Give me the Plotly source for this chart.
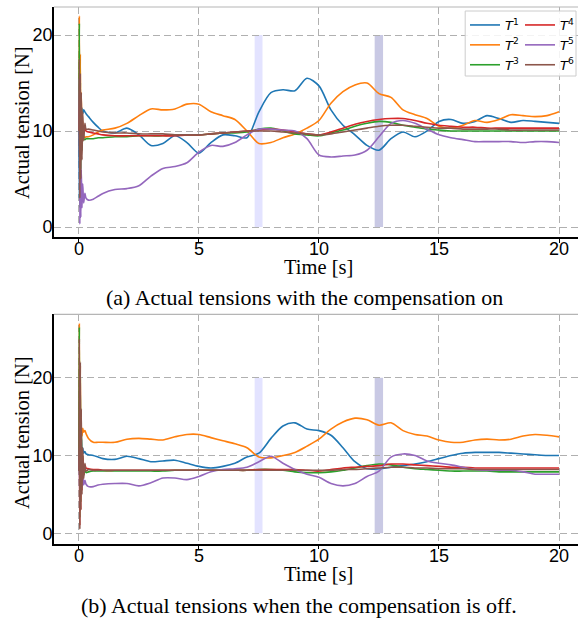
import plotly.graph_objects as go

# ---------------- data ----------------
t = [0, 0.02, 0.04, 0.06, 0.08, 0.1, 0.13, 0.16, 0.2, 0.25, 0.3, 0.4, 0.6, 0.8, 1.0,
     1.5, 2.0, 2.5, 3.0, 3.5, 4.0, 4.5, 5.0, 5.5, 6.0, 6.5, 7.0, 7.5, 8.0, 8.5, 9.0,
     9.5, 10.0, 10.5, 11.0, 11.5, 12.0, 12.5, 13.0, 13.5, 14.0, 14.5, 15.0, 15.5,
     16.0, 16.5, 17.0, 17.5, 18.0, 18.5, 19.0, 19.5, 20.0]

# (a) compensation on
a_T1 = [10, 3, 12, 8, 12.5, 11, 12.4, 11.8, 12.2, 12.0, 11.8, 11.5, 10.9, 10.4, 10.0,
        9.8, 10.3, 9.6, 8.5, 8.7, 9.5, 8.8, 7.7, 8.8, 9.6, 9.5, 9.3, 12.0, 14.0, 14.3, 14.2,
        15.5, 14.7, 12.2, 10.6, 9.6, 8.5, 8.0, 9.2, 9.9, 9.4, 10.0, 11.0, 11.2,
        10.8, 11.0, 11.6, 11.3, 10.9, 11.1, 11.0, 10.9, 10.8]
a_T2 = [10, 22, 4, 18, 8, 14, 9, 11, 9.5, 9.3, 9.4, 9.4, 9.6, 9.9, 10.1,
        10.3, 10.8, 11.6, 12.3, 12.2, 12.3, 12.8, 12.8, 12.0, 11.6, 11.2, 10.0, 8.7, 8.8, 9.3, 9.7,
        10.3, 11.1, 12.9, 14.1, 14.8, 15.0, 13.9, 13.5, 12.2, 11.7, 11.3, 10.5, 10.3,
        10.6, 11.1, 10.9, 11.2, 11.7, 11.6, 11.5, 11.6, 12.0]
a_T3 = [10, 21.2, 2, 15, 6, 12, 8, 10, 9.2, 9.1, 9.2, 9.2, 9.2, 9.3, 9.3,
        9.4, 9.4, 9.5, 9.5, 9.5, 9.6, 9.6, 9.6, 9.7, 9.8, 9.8, 9.9, 10.2, 10.3, 10.0, 9.7,
        9.6, 9.5, 9.8, 10.1, 10.5, 10.8, 11.0, 10.9, 10.6, 10.4, 10.2, 10.1, 10.0,
        10.0, 10.0, 10.0, 10.0, 10.0, 10.0, 10.0, 10.0, 10.0]
a_T4 = [10, 12.5, 6, 12, 8, 11, 9, 10.5, 10.0, 10.2, 10.0, 9.9, 9.8, 9.7, 9.6,
        9.5, 9.5, 9.5, 9.5, 9.5, 9.5, 9.6, 9.6, 9.7, 9.8, 9.9, 10.0, 10.1, 10.2, 10.1, 9.9,
        9.7, 9.6, 9.9, 10.3, 10.7, 11.0, 11.2, 11.3, 11.3, 11.1, 10.8, 10.6, 10.5,
        10.4, 10.4, 10.3, 10.3, 10.3, 10.3, 10.3, 10.3, 10.3]
a_T5 = [10, 15.5, 0.3, 10, 1, 6, 2, 4.5, 2.5, 3.5, 3.0, 2.8, 2.9, 3.2, 3.5,
        3.9, 4.0, 4.3, 5.3, 6.1, 6.3, 6.7, 7.8, 8.5, 8.4, 8.8, 9.6, 10.2, 10.2, 10.1, 10.0,
        9.2, 7.5, 7.3, 7.4, 7.5, 8.0, 9.4, 10.8, 11.1, 10.8, 10.2, 9.6, 9.3,
        9.1, 8.9, 8.9, 8.9, 8.9, 8.8, 8.9, 8.9, 8.8]
a_T6 = [10, 17.5, 3, 16, 5, 14, 7, 12, 9, 10.8, 10.2, 10.2, 10.1, 10.0, 9.9,
        9.8, 9.8, 9.7, 9.7, 9.7, 9.6, 9.6, 9.6, 9.7, 9.8, 9.9, 10.0, 10.0, 10.0, 9.9, 9.8,
        9.7, 9.6, 9.7, 9.9, 10.1, 10.3, 10.5, 10.6, 10.6, 10.5, 10.4, 10.3, 10.3,
        10.2, 10.2, 10.2, 10.2, 10.1, 10.1, 10.1, 10.1, 10.1]

# (b) compensation off
b_T1 = [8, 14.3, 5, 13, 8, 12.5, 10, 11, 10.3, 10.5, 10.2, 10.1, 10.0, 9.8, 9.6,
        9.5, 9.9, 9.6, 9.2, 9.3, 9.4, 9.0, 8.6, 8.4, 8.6, 9.0, 9.8, 10.3, 12.2, 13.8, 14.2,
        13.4, 13.2, 12.6, 11.0, 9.2, 8.3, 8.3, 8.5, 8.7, 8.9, 9.2, 9.6, 10.0,
        10.3, 10.4, 10.4, 10.4, 10.3, 10.2, 10.1, 10.0, 10.0]
b_T2 = [8, 27, 6, 21.5, 10, 13.5, 12.5, 13.5, 13, 13.2, 12.8, 12.2, 11.7, 11.7, 11.7,
        11.7, 12.1, 12.2, 12.1, 12.0, 12.4, 12.7, 12.7, 12.3, 11.9, 11.5, 11.0, 9.8, 9.7, 10.0, 10.4,
        11.2, 12.1, 13.4, 14.3, 14.8, 14.6, 13.9, 14.2, 13.2, 12.7, 12.5, 12.0, 11.7,
        11.7, 12.0, 12.1, 12.0, 12.1, 12.5, 12.7, 12.6, 12.4]
b_T3 = [8, 26.5, 2, 20, 4, 14, 6, 10, 7.5, 8.2, 7.8, 7.9, 8.0, 8.0, 8.0,
        8.0, 8.0, 8.0, 8.0, 8.0, 8.1, 8.1, 8.1, 8.1, 8.1, 8.1, 8.1, 8.2, 8.2, 8.1, 7.9,
        7.8, 7.8, 7.9, 8.1, 8.4, 8.7, 8.9, 8.8, 8.5, 8.3, 8.2, 8.1, 8.0,
        8.0, 8.0, 8.0, 7.9, 7.9, 7.9, 7.9, 7.9, 7.9]
b_T4 = [8, 10, 1, 14, 3, 12, 5.5, 10, 7.5, 8.8, 8.4, 8.3, 8.2, 8.2, 8.1,
        8.1, 8.1, 8.1, 8.1, 8.1, 8.1, 8.1, 8.1, 8.1, 8.1, 8.1, 8.1, 8.2, 8.2, 8.2, 8.2,
        8.1, 8.0, 8.2, 8.4, 8.5, 8.6, 8.7, 8.9, 8.9, 8.8, 8.7, 8.6, 8.5,
        8.5, 8.4, 8.4, 8.4, 8.4, 8.4, 8.4, 8.4, 8.4]
b_T5 = [8, 11, 4, 9, 5, 7.5, 6, 7.5, 6.2, 6.8, 6.3, 6.0, 6.0, 6.2, 6.3,
        6.4, 6.4, 6.1, 6.5, 7.1, 7.1, 6.9, 7.3, 7.9, 8.2, 8.3, 8.5, 9.2, 9.9, 9.0, 8.2,
        7.6, 7.2, 6.4, 6.1, 6.4, 7.3, 8.0, 9.8, 10.2, 10.0, 9.3, 9.0, 8.8,
        8.5, 8.2, 8.1, 8.1, 8.1, 7.9, 7.6, 7.6, 7.6]
b_T6 = [8, 25, 0.5, 22, 3, 16, 5, 11, 7, 9, 8.0, 8.2, 8.1, 8.1, 8.1,
        8.1, 8.1, 8.1, 8.1, 8.1, 8.1, 8.1, 8.1, 8.1, 8.1, 8.1, 8.1, 8.1, 8.1, 8.1, 8.1,
        8.1, 8.1, 8.1, 8.2, 8.2, 8.3, 8.4, 8.5, 8.5, 8.4, 8.4, 8.3, 8.3,
        8.3, 8.2, 8.2, 8.2, 8.2, 8.2, 8.2, 8.2, 8.2]

names = ["<i>T</i><sup>1</sup>", "<i>T</i><sup>2</sup>", "<i>T</i><sup>3</sup>",
         "<i>T</i><sup>4</sup>", "<i>T</i><sup>5</sup>", "<i>T</i><sup>6</sup>"]
colors = ["#1f77b4", "#ff7f0e", "#2ca02c", "#d62728", "#9467bd", "#8c564b"]

band_start = [7.32, 12.32]
band_end = [7.65, 12.67]
band_low = [0, 0]
band_high = [20, 20]
band_fill = ["rgba(0,0,255,0.11)", "rgba(0,0,128,0.21)"]

x_ticks = [0, 5, 10, 15, 20]
y_ticks = [0, 10, 20]

x_title = "Time [s]"
y_title = "Actual tension [N]"
caption_a = "(a) Actual tensions with the compensation on"
caption_b = "(b) Actual tensions when the compensation is off."

# ---------------- figure ----------------
W, H = 579, 623
fig = go.Figure()

series_a = [a_T1, a_T2, a_T3, a_T4, a_T5, a_T6]
series_b = [b_T1, b_T2, b_T3, b_T4, b_T5, b_T6]

for i, ys in enumerate(series_a):
    fig.add_trace(go.Scatter(
        x=t, y=ys, mode="lines", name=names[i],
        line=dict(color=colors[i], width=1.6, shape="spline", smoothing=0.8),
        xaxis="x", yaxis="y",
        legend="legend" if i < 3 else "legend2", showlegend=True))

for i, ys in enumerate(series_b):
    fig.add_trace(go.Scatter(
        x=t, y=ys, mode="lines", name=names[i],
        line=dict(color=colors[i], width=1.6, shape="spline", smoothing=0.8),
        xaxis="x2", yaxis="y2", showlegend=False))

shapes = []
for xr, yr in (("x", "y"), ("x2", "y2")):
    for k in range(len(band_start)):
        shapes.append(dict(type="rect", xref=xr, yref=yr,
                           x0=band_start[k], x1=band_end[k],
                           y0=band_low[k], y1=band_high[k],
                           fillcolor=band_fill[k], line=dict(width=0), layer="below"))
    # top spine (light grey)
    shapes.append(dict(type="line", xref=xr + " domain", yref=yr + " domain",
                       x0=0, x1=1, y0=1, y1=1,
                       line=dict(color="#b5b5b5", width=1.2)))

# legend frame
shapes.append(dict(type="rect", xref="paper", yref="paper",
                   x0=466 / W, x1=577 / W, y0=1 - 76 / H, y1=1 - 11 / H,
                   fillcolor="rgba(255,255,255,0.85)",
                   line=dict(color="#cccccc", width=1)))

tickfont = dict(family="Liberation Sans, Arial, sans-serif", size=18, color="black")
serif = "Liberation Serif, Times New Roman, serif"
titlefont = dict(family=serif, size=20.5, color="black")

xcommon = dict(range=[-1.04, 20.79], tickvals=x_ticks, showgrid=True,
               gridcolor="#b0b0b0", griddash="7px,4px", gridwidth=1.2,
               zeroline=False, showline=True, linecolor="black", linewidth=1.6,
               ticks="outside", ticklen=4, tickwidth=1.2, tickcolor="black",
               tickfont=tickfont, ticklabelstandoff=-9)
ycommon = dict(tickvals=y_ticks, showgrid=True, gridcolor="#b0b0b0",
               griddash="7px,4px", gridwidth=1.2, zeroline=False, showline=True,
               linecolor="black", linewidth=1.6, ticks="", tickfont=tickfont,
               ticklabelstandoff=-4)

annotations = [
    dict(text=caption_a, xref="paper", yref="paper",
         x=305 / W, y=1 - 297 / H, xanchor="center", yanchor="middle", showarrow=False,
         font=dict(family=serif, size=22, color="black")),
    dict(text=caption_b, xref="paper", yref="paper",
         x=300 / W, y=1 - 605 / H, xanchor="center", yanchor="middle", showarrow=False,
         font=dict(family=serif, size=22, color="black")),
]
for yc in (267, 574):
    annotations.append(dict(text=x_title, xref="paper", yref="paper",
                            x=319 / W, y=1 - yc / H, xanchor="center", yanchor="middle",
                            showarrow=False, font=titlefont))
for yc in (122, 432):
    annotations.append(dict(text=y_title, xref="paper", yref="paper", textangle=-90,
                            x=22 / W, y=1 - yc / H, xanchor="center", yanchor="middle",
                            showarrow=False, font=titlefont))

legend_common = dict(xanchor="left", yanchor="top", bgcolor="rgba(0,0,0,0)",
                     borderwidth=0, itemwidth=30, tracegroupgap=0,
                     font=dict(family="DejaVu Sans", size=13, color="black"))

fig.update_layout(
    width=W, height=H, margin=dict(l=0, r=0, t=0, b=0),
    paper_bgcolor="white", plot_bgcolor="white",
    xaxis=dict(domain=[54 / W, 1], anchor="y", **xcommon),
    yaxis=dict(domain=[1 - 237 / H, 1 - 7 / H], anchor="x", range=[-1.04, 22.92], **ycommon),
    xaxis2=dict(domain=[54 / W, 1], anchor="y2", **xcommon),
    yaxis2=dict(domain=[1 - 543.5 / H, 1 - 314.3 / H], anchor="x2", range=[-1.31, 28.15], **ycommon),
    shapes=shapes,
    legend=dict(x=465 / W, y=1 - 10 / H, **legend_common),
    legend2=dict(x=521 / W, y=1 - 10 / H, **legend_common),
    annotations=annotations,
)

fig.write_html("out.html")
